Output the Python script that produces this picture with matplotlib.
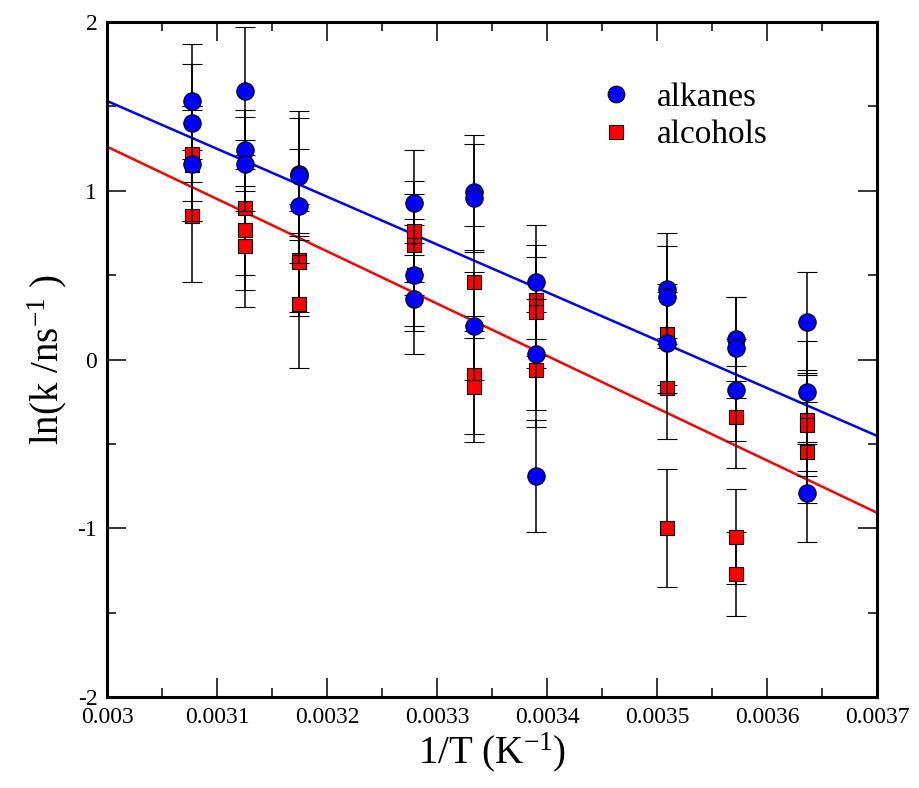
# Arrhenius plot: ln(k) vs 1/T for alkanes and alcohols
import numpy as np
import matplotlib
matplotlib.use('Agg')
from matplotlib import pyplot as plt
from matplotlib.lines import Line2D
from matplotlib.ticker import MultipleLocator, FuncFormatter

plt.rcParams['font.family'] = ['Liberation Serif', 'DejaVu Serif']
plt.rcParams['mathtext.fontset'] = 'custom'
plt.rcParams['mathtext.rm'] = 'Liberation Serif'
plt.rcParams['mathtext.default'] = 'regular'
plt.rcParams['axes.unicode_minus'] = False

# temperatures (K), three runs per temperature
temps = [325, 320, 315, 305, 300, 295, 285, 280, 275]

alkanes = [[1.53, 1.40, 1.16], [1.59, 1.24, 1.16], [1.10, 1.09, 0.91],
           [0.93, 0.50, 0.36], [0.99, 0.96, 0.20], [0.46, 0.03, -0.69],
           [0.42, 0.37, 0.10], [0.12, 0.07, -0.18], [0.22, -0.19, -0.79]]
alkanes_err = [[0.34, 0.35, 0.34], [0.38, 0.24, 0.28], [0.37, 0.34, 0.34],
               [0.31, 0.33, 0.33], [0.34, 0.32, 0.32], [0.34, 0.33, 0.33],
               [0.33, 0.30, 0.30], [0.25, 0.30, 0.30], [0.30, 0.30, 0.29]]

alcohols = [[1.22, 1.15, 0.85], [0.90, 0.77, 0.67], [0.59, 0.58, 0.33],
            [0.76, 0.68, 0.50], [0.46, -0.09, -0.16], [0.35, 0.28, -0.06],
            [0.15, -0.17, -1.00], [-0.34, -1.05, -1.27], [-0.36, -0.39, -0.55]]
alcohols_err = [[0.28, 0.33, 0.39], [0.40, 0.36, 0.36], [0.33, 0.30, 0.38],
                [0.30, 0.30, 0.30], [0.33, 0.35, 0.33], [0.33, 0.33, 0.34],
                [0.30, 0.30, 0.35], [0.30, 0.28, 0.25], [0.30, 0.30, 0.30]]

# linear fits ln(k) = a + b/T
fit_alkanes = (10.037, -2835.0)
fit_alcohols = (10.558, -3099.0)


def flatten(temps, vals, errs):
    xs, ys, es = [], [], []
    for t, v, e in zip(temps, vals, errs):
        for yy, ee in zip(v, e):
            xs.append(1.0 / t)
            ys.append(yy)
            es.append(ee)
    return np.array(xs), np.array(ys), np.array(es)


fig = plt.figure(figsize=(9.19, 7.88), dpi=100)
ax = fig.add_axes([107 / 919, 1 - 697 / 788, 770 / 919, 675 / 788])

xline = np.array([0.003, 0.0037])
ax.plot(xline, fit_alkanes[0] + fit_alkanes[1] * xline, color='blue', lw=1.8, zorder=1)
ax.plot(xline, fit_alcohols[0] + fit_alcohols[1] * xline, color='red', lw=1.8, zorder=1)

x, y, e = flatten(temps, alcohols, alcohols_err)
ax.errorbar(x, y, yerr=e, fmt='s', color='black', mfc='red', mec='black',
            ms=10, mew=0.8, ecolor='black', elinewidth=1.1, capsize=7.2,
            capthick=1.1, zorder=2)
x, y, e = flatten(temps, alkanes, alkanes_err)
ax.errorbar(x, y, yerr=e, fmt='o', color='black', mfc='blue', mec='black',
            ms=12.5, mew=0.8, ecolor='black', elinewidth=1.1, capsize=7.2,
            capthick=1.1, zorder=3)

ax.set_xlim(0.003, 0.0037)
ax.set_ylim(-2, 2)
ax.xaxis.set_major_locator(MultipleLocator(0.0001))
ax.xaxis.set_minor_locator(MultipleLocator(0.00005))
ax.yaxis.set_major_locator(MultipleLocator(1))
ax.yaxis.set_minor_locator(MultipleLocator(0.5))
ax.xaxis.set_major_formatter(FuncFormatter(lambda v, p: '%g' % round(v, 5)))
ax.yaxis.set_major_formatter(FuncFormatter(lambda v, p: '%g' % v))
ax.tick_params(which='both', direction='in', top=True, right=True,
               labelsize=17, width=1.1, pad=7)
ax.tick_params(which='major', length=13.5)
ax.tick_params(which='minor', length=6.5)
for s in ax.spines.values():
    s.set_linewidth(2.2)

ax.set_xlabel('1/T (K$^{-1}$)', fontsize=28, labelpad=2)
ax.set_ylabel('ln(k /ns$^{-1}$ )', fontsize=28, labelpad=6)

handles = [Line2D([], [], ls='none', marker='o', mfc='blue', mec='black', ms=12, mew=0.8),
           Line2D([], [], ls='none', marker='s', mfc='red', mec='black', ms=9.5, mew=0.8)]
ax.legend(handles, ['alkanes', 'alcohols'], loc='upper left',
          bbox_to_anchor=(0.627, 0.93), frameon=False, fontsize=24,
          handlelength=0.8, handletextpad=0.8, labelspacing=0.2,
          borderaxespad=0)

plt.savefig('out.png', dpi=100)
